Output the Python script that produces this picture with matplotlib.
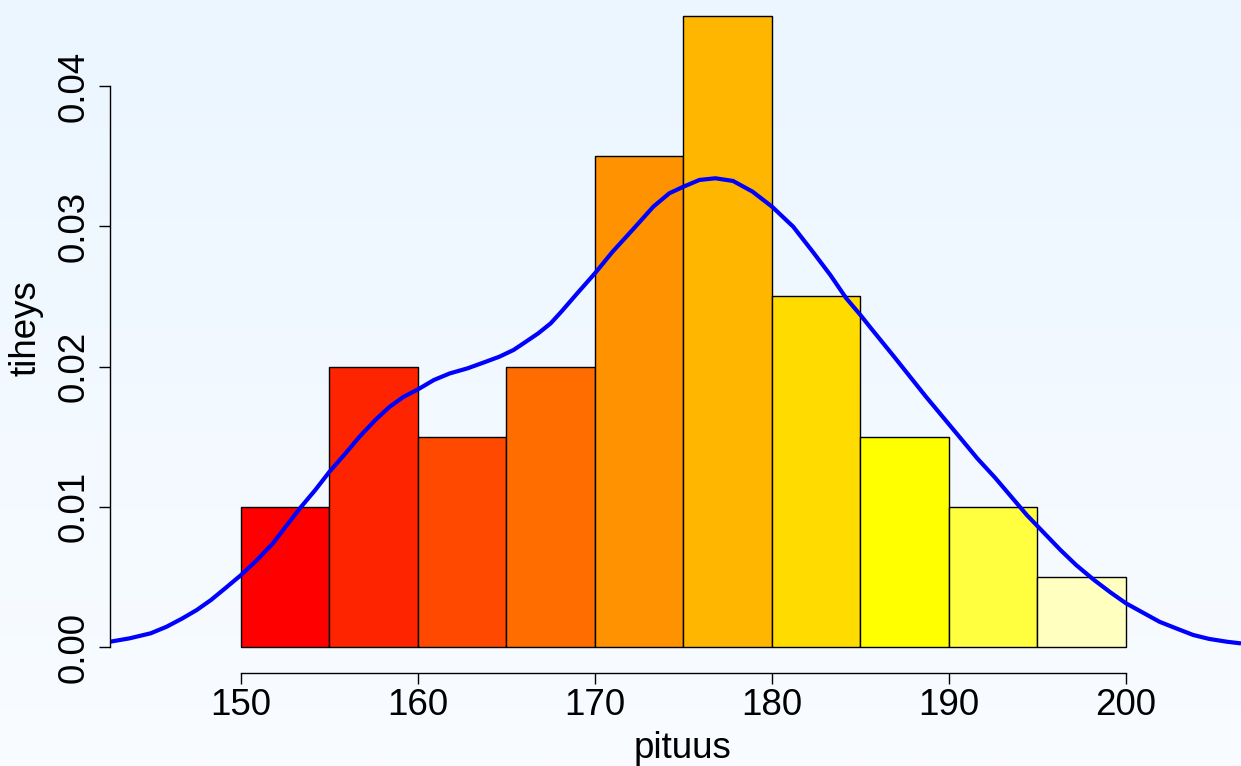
import numpy as np
import matplotlib
matplotlib.use('Agg')
import matplotlib.pyplot as plt

plt.rcParams['font.family'] = ['Liberation Sans', 'DejaVu Sans']

# histogrammin luokat ja tiheydet
bin_left = [150, 155, 160, 165, 170, 175, 180, 185, 190, 195]
bin_width = 5
density = [0.010, 0.020, 0.015, 0.020, 0.035, 0.045, 0.025, 0.015, 0.010, 0.005]
bar_colors = ['#FF0000', '#FF2400', '#FF4900', '#FF6D00', '#FF9200',
              '#FFB600', '#FFDB00', '#FFFF00', '#FFFF40', '#FFFFBF']

# tiheyskäyrä (luettu kuvasta)
kde_x = [142.6, 143.7, 144.9, 145.8, 146.7, 147.5, 148.3, 149.1, 150.0, 150.9,
         151.8, 152.6, 153.4, 154.2, 155.0, 155.9, 156.7, 157.6, 158.4, 159.2,
         160.0, 160.9, 161.8, 162.8, 163.7, 164.6, 165.4, 166.1, 166.8, 167.5,
         168.1, 169.0, 170.0, 171.0, 172.2, 173.3, 174.2, 175.0, 175.9, 176.8,
         177.8, 178.9, 180.0, 181.2, 182.3, 183.3, 184.2, 185.0, 185.6, 186.9,
         188.7, 190.7, 191.6, 192.6, 194.4, 196.3, 197.2, 198.2, 199.1, 200.0,
         201.9, 202.9, 203.8, 204.7, 205.7, 206.5]
kde_y = [0.00038, 0.00062, 0.00098, 0.00145, 0.00205, 0.00264, 0.00335, 0.00418, 0.00513, 0.0062,
         0.00739, 0.0087, 0.0100, 0.0112, 0.0125, 0.0138, 0.0150, 0.0162, 0.01713, 0.01785,
         0.01837, 0.01904, 0.01951, 0.01987, 0.02028, 0.0207, 0.02118, 0.02177, 0.02237, 0.02308,
         0.02391, 0.02522, 0.02665, 0.02819, 0.02985, 0.0314, 0.03235, 0.03282, 0.0333, 0.03342,
         0.03323, 0.03247, 0.0314, 0.02997, 0.02819, 0.02652, 0.02486, 0.02367, 0.02272, 0.0207,
         0.01785, 0.01482, 0.01345, 0.01208, 0.00941, 0.00692, 0.00583, 0.00478, 0.00392, 0.00312,
         0.0018, 0.0013, 0.00086, 0.00058, 0.00038, 0.00026]

x_ticks = [150, 160, 170, 180, 190, 200]
y_ticks = [0.00, 0.01, 0.02, 0.03, 0.04]

fig = plt.figure(figsize=(12.41, 7.66), dpi=100)

# taustan liukuväri
bg = fig.add_axes([0, 0, 1, 1], zorder=-1)
top = np.array([235, 246, 255]) / 255
bottom = np.array([249, 252, 255]) / 255
t = np.linspace(0, 1, 256)[:, None]
grad = (top * (1 - t) + bottom * t)[:, None, :]
bg.imshow(grad, aspect='auto', extent=[0, 1, 0, 1])
bg.axis('off')

ax = fig.add_axes([110 / 1241, 93 / 766, 1 - 110 / 1241, 1 - 93 / 766])
ax.set_facecolor('none')

ax.bar(bin_left, density, width=bin_width, align='edge', color=bar_colors,
       edgecolor='black', linewidth=1)
ax.plot(kde_x, kde_y, color='blue', linewidth=3, solid_joinstyle='round',
        solid_capstyle='butt')

ax.set_xlim(142.6, 206.5)
ax.set_ylim(-0.00185, 0.04613)

for s in ['top', 'right']:
    ax.spines[s].set_visible(False)
ax.spines['bottom'].set_bounds(150, 200)
ax.spines['left'].set_bounds(0, 0.04)
ax.spines['bottom'].set_linewidth(1)
ax.spines['left'].set_linewidth(1)

ax.set_xticks(x_ticks)
ax.set_xticklabels([str(v) for v in x_ticks])
ax.set_yticks(y_ticks)
ax.set_yticklabels(['%.2f' % v for v in y_ticks], rotation=90, va='center')
ax.tick_params(axis='both', length=8, width=1, labelsize=26.5, direction='out')
ax.tick_params(axis='x', pad=3)
ax.tick_params(axis='y', pad=5)

fig.text(35 / 1241, 1 - 328 / 766, 'tiheys', fontsize=26.5, rotation=90,
         rotation_mode='anchor', ha='center', va='baseline')
fig.text(683 / 1241, 8.3 / 766, 'pituus', fontsize=26.5, ha='center', va='baseline')

fig.savefig('out.png', dpi=100)
